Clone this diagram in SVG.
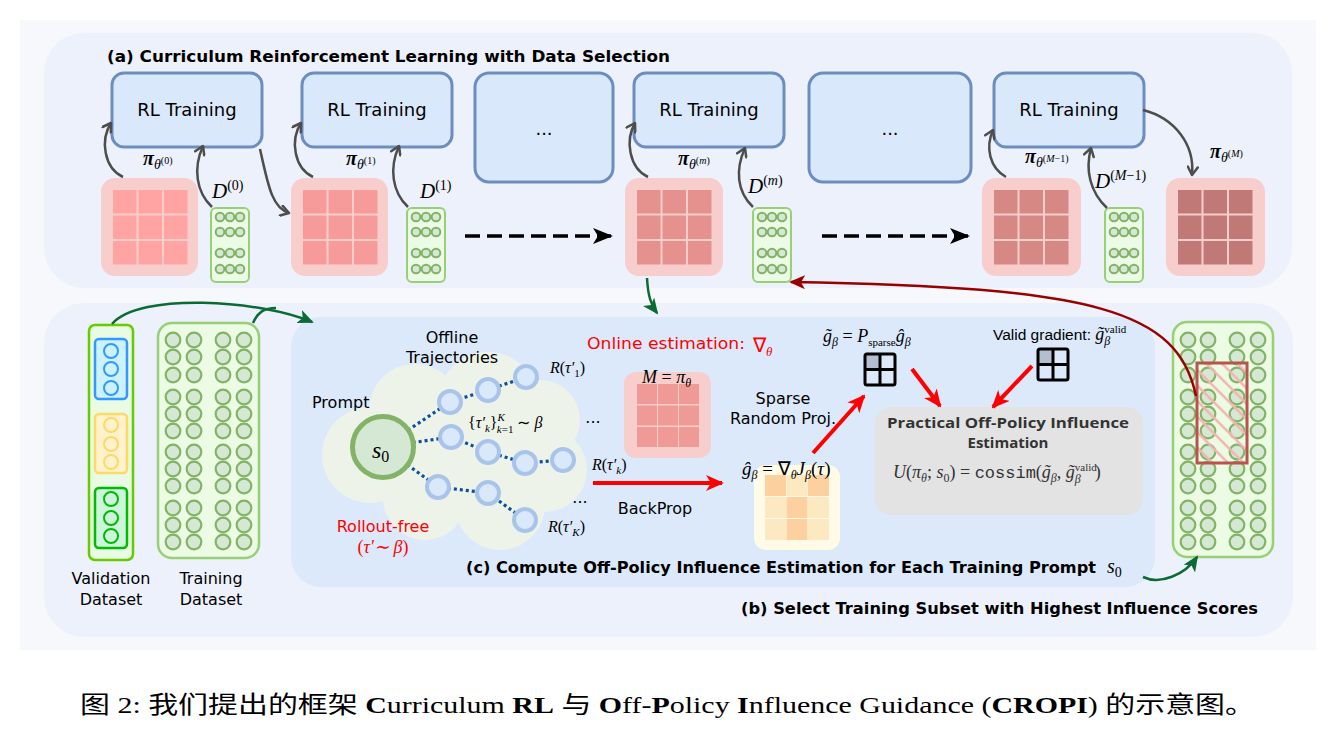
<svg xmlns="http://www.w3.org/2000/svg" width="1336" height="736" viewBox="0 0 1336 736">
<defs>
<style>
.panel{fill:#edf1fb}
.rl{fill:#dae8fc;stroke:#6c8ebf;stroke-width:3}
.rlt{font-family:"DejaVu Sans",sans-serif;font-size:18px;fill:#000;text-anchor:middle}
.lb{font-family:"DejaVu Sans",sans-serif;font-size:16px;fill:#000}
.ttl{font-family:"DejaVu Sans",sans-serif;font-weight:bold;font-size:16.5px;fill:#000}
.m{font-family:"Liberation Serif",serif;font-style:italic;fill:#000}
.mr{font-family:"Liberation Serif",serif;font-style:normal}
.pk{fill:#f8cecc}
.dcol{fill:#ebfbe6;stroke:#97d077;stroke-width:2}
.dc{fill:#d5e8d4;stroke:#82b366;stroke-width:2}
.tc{fill:#d5e8d4;stroke:#82b366;stroke-width:2.2}
.ga{fill:none;stroke:#4d4d4d;stroke-width:2.5;marker-end:url(#gA)}
.gr{fill:none;stroke:#0b6b35;stroke-width:2.5;marker-end:url(#grA)}
.ra{fill:none;stroke:#ff0000;stroke-width:4;marker-end:url(#rA)}
.dash{fill:none;stroke:#000;stroke-width:3.5;stroke-dasharray:15 7;marker-end:url(#bA)}
.dot{fill:none;stroke:#0a4f9e;stroke-width:3.2;stroke-dasharray:3 3}
.tn{fill:#dae8fc;stroke:#a9c4eb;stroke-width:4}
.ic{fill:none;stroke:#000;stroke-width:3}
</style>
<marker id="gA" viewBox="0 0 12 12" refX="10" refY="6" markerWidth="12" markerHeight="12" orient="auto" markerUnits="userSpaceOnUse"><path d="M2,1 L10,6 L2,11" fill="none" stroke="#4d4d4d" stroke-width="2.5" stroke-linecap="round" stroke-linejoin="round"/></marker>
<marker id="bA" viewBox="0 0 20 16" refX="18" refY="8" markerWidth="20" markerHeight="16" orient="auto" markerUnits="userSpaceOnUse"><path d="M0,0 L20,8 L0,16 L5,8 Z" fill="#000"/></marker>
<marker id="rA" viewBox="0 0 18 16" refX="16" refY="8" markerWidth="18" markerHeight="16" orient="auto" markerUnits="userSpaceOnUse"><path d="M0,0 L18,8 L0,16 L5,8 Z" fill="#ff0000"/></marker>
<marker id="grA" viewBox="0 0 16 14" refX="14" refY="7" markerWidth="16" markerHeight="14" orient="auto" markerUnits="userSpaceOnUse"><path d="M0,0 L16,7 L0,14 L4,7 Z" fill="#0b6b35"/></marker>
<marker id="drA" viewBox="0 0 16 14" refX="14" refY="7" markerWidth="16" markerHeight="14" orient="auto" markerUnits="userSpaceOnUse"><path d="M0,0 L16,7 L0,14 L4,7 Z" fill="#990000"/></marker>
<pattern id="hatch" patternUnits="userSpaceOnUse" width="11" height="11" patternTransform="rotate(-45)"><line x1="2" y1="0" x2="2" y2="11" stroke="#f4b3b1" stroke-width="2.5"/></pattern>
<g id="g9">
<rect x="0" y="0" width="23.5" height="23.5"/><rect x="25.5" y="0" width="23.5" height="23.5"/><rect x="51" y="0" width="23.5" height="23.5"/>
<rect x="0" y="25.5" width="23.5" height="23.5"/><rect x="25.5" y="25.5" width="23.5" height="23.5"/><rect x="51" y="25.5" width="23.5" height="23.5"/>
<rect x="0" y="51" width="23.5" height="23.5"/><rect x="25.5" y="51" width="23.5" height="23.5"/><rect x="51" y="51" width="23.5" height="23.5"/>
</g>
<g id="dcg">
<rect class="dcol" x="0" y="0" width="38" height="74" rx="5"/>
<circle class="dc" cx="9" cy="9" r="4.3"/><circle class="dc" cx="19" cy="9" r="4.3"/><circle class="dc" cx="29" cy="9" r="4.3"/>
<circle class="dc" cx="9" cy="24" r="4.3"/><circle class="dc" cx="19" cy="24" r="4.3"/><circle class="dc" cx="29" cy="24" r="4.3"/>
<circle class="dc" cx="9" cy="45" r="4.3"/><circle class="dc" cx="19" cy="45" r="4.3"/><circle class="dc" cx="29" cy="45" r="4.3"/>
<circle class="dc" cx="9" cy="61" r="4.3"/><circle class="dc" cx="19" cy="61" r="4.3"/><circle class="dc" cx="29" cy="61" r="4.3"/>
</g>
<g id="c12">
<circle class="tc" cx="0" cy="0" r="7.3"/><circle class="tc" cx="0" cy="17" r="7.3"/><circle class="tc" cx="0" cy="35" r="7.3"/>
<circle class="tc" cx="0" cy="57" r="7.3"/><circle class="tc" cx="0" cy="74" r="7.3"/><circle class="tc" cx="0" cy="91" r="7.3"/>
<circle class="tc" cx="0" cy="112" r="7.3"/><circle class="tc" cx="0" cy="129" r="7.3"/><circle class="tc" cx="0" cy="146" r="7.3"/>
<circle class="tc" cx="0" cy="168" r="7.3"/><circle class="tc" cx="0" cy="185" r="7.3"/><circle class="tc" cx="0" cy="202" r="7.3"/>
</g>
</defs>

<rect x="0" y="0" width="1336" height="736" fill="#ffffff"/>
<rect x="20" y="20" width="1296" height="630" fill="#f7f8fb"/>

<!-- panels -->
<g id="panel-a"><rect class="panel" x="44" y="33" width="1248" height="255" rx="40"/>
<text class="ttl" x="107" y="62" textLength="563" lengthAdjust="spacingAndGlyphs">(a) Curriculum Reinforcement Learning with Data Selection</text></g>
<g id="panel-b"><rect class="panel" x="44" y="303" width="1249" height="334" rx="40"/>
<text class="ttl" x="741" y="614" textLength="517" lengthAdjust="spacingAndGlyphs">(b) Select Training Subset with Highest Influence Scores</text></g>
<g id="panel-c"><rect x="291" y="317" width="864" height="270" rx="30" fill="#dbe9fb"/>
<text class="ttl" x="466" y="573" font-size="15.5" style="font-size:15.5px" textLength="630" lengthAdjust="spacingAndGlyphs">(c) Compute Off-Policy Influence Estimation for Each Training Prompt</text>
<text class="m" x="1107" y="573" font-size="20">s<tspan class="mr" font-size="14" dy="4">0</tspan></text></g>

<!-- RL training boxes -->
<g id="rl1"><rect class="rl" x="112" y="73" width="150" height="74" rx="12"/><text class="rlt" x="187" y="116">RL Training</text></g>
<g id="rl2"><rect class="rl" x="302" y="73" width="150" height="74" rx="12"/><text class="rlt" x="377" y="116">RL Training</text></g>
<g id="rl3"><rect class="rl" x="475" y="73" width="138" height="109" rx="14"/><text class="rlt" x="544" y="135" font-size="14">...</text></g>
<g id="rl4"><rect class="rl" x="634" y="73" width="150" height="74" rx="12"/><text class="rlt" x="709" y="116">RL Training</text></g>
<g id="rl5"><rect class="rl" x="809" y="73" width="162" height="109" rx="14"/><text class="rlt" x="890" y="135" font-size="14">...</text></g>
<g id="rl6"><rect class="rl" x="994" y="73" width="150" height="74" rx="12"/><text class="rlt" x="1069" y="116">RL Training</text></g>

<!-- policy blocks -->
<g id="pol0"><rect class="pk" x="101" y="178" width="97" height="98" rx="14"/><use href="#g9" x="113" y="190" fill="#ffa3a3"/></g>
<g id="pol1"><rect class="pk" x="291" y="178" width="97" height="98" rx="14"/><use href="#g9" x="303" y="190" fill="#f79b9a"/></g>
<g id="polm"><rect class="pk" x="625" y="178" width="98" height="98" rx="14"/><use href="#g9" x="637" y="190" fill="#e5928e"/></g>
<g id="polM1"><rect class="pk" x="982" y="178" width="99" height="98" rx="14"/><use href="#g9" x="994" y="190" fill="#d68884"/></g>
<g id="polM"><rect class="pk" x="1166" y="178" width="99" height="98" rx="14"/><use href="#g9" x="1178" y="190" fill="#c07976"/></g>

<!-- data subsets -->
<g id="d0"><use href="#dcg" x="211" y="208"/></g>
<g id="d1"><use href="#dcg" x="407" y="208"/></g>
<g id="dm"><use href="#dcg" x="753" y="208"/></g>
<g id="dM1"><use href="#dcg" x="1105" y="208"/></g>

<!-- top labels -->
<g id="top-labels">
<text class="m" x="143" y="165" font-size="20"><tspan font-weight="bold">π</tspan><tspan font-size="14" dy="4">θ</tspan><tspan class="mr" font-size="10" dy="-5">(0)</tspan></text>
<text class="m" x="346" y="165" font-size="20"><tspan font-weight="bold">π</tspan><tspan font-size="14" dy="4">θ</tspan><tspan class="mr" font-size="10" dy="-5">(1)</tspan></text>
<text class="m" x="678" y="165" font-size="20"><tspan font-weight="bold">π</tspan><tspan font-size="14" dy="4">θ</tspan><tspan class="mr" font-size="10" dy="-5">(</tspan><tspan font-size="10">m</tspan><tspan class="mr" font-size="10">)</tspan></text>
<text class="m" x="1025" y="163" font-size="20"><tspan font-weight="bold">π</tspan><tspan font-size="14" dy="4">θ</tspan><tspan class="mr" font-size="10" dy="-5">(</tspan><tspan font-size="10">M</tspan><tspan class="mr" font-size="10">−1)</tspan></text>
<text class="m" x="1210" y="158" font-size="20"><tspan font-weight="bold">π</tspan><tspan font-size="14" dy="4">θ</tspan><tspan class="mr" font-size="10" dy="-5">(</tspan><tspan font-size="10">M</tspan><tspan class="mr" font-size="10">)</tspan></text>
<text class="m" x="212" y="198" font-size="21">D<tspan class="mr" font-size="14" dy="-8">(0)</tspan></text>
<text class="m" x="420" y="198" font-size="21">D<tspan class="mr" font-size="14" dy="-8">(1)</tspan></text>
<text class="m" x="748" y="193" font-size="21">D<tspan class="mr" font-size="14" dy="-8">(</tspan><tspan font-size="14">m</tspan><tspan class="mr" font-size="14">)</tspan></text>
<text class="m" x="1095" y="188" font-size="21">D<tspan class="mr" font-size="14" dy="-8">(</tspan><tspan font-size="14">M</tspan><tspan class="mr" font-size="14">−1)</tspan></text>
</g>

<!-- validation dataset -->
<g id="validation">
<rect x="89" y="325" width="44" height="235" rx="6" fill="#e9fbe4" stroke="#66cc00" stroke-width="2.5"/>
<rect x="95" y="339" width="32" height="60" rx="4" fill="#ccf2ff" stroke="#3399ff" stroke-width="2.5"/>
<circle cx="111" cy="351" r="7" fill="none" stroke="#3399ff" stroke-width="2"/><circle cx="111" cy="369" r="7" fill="none" stroke="#3399ff" stroke-width="2"/><circle cx="111" cy="388" r="7" fill="none" stroke="#3399ff" stroke-width="2"/>
<rect x="95" y="414" width="32" height="59" rx="4" fill="#fff2cc" stroke="#ffd966" stroke-width="2.5"/>
<circle cx="111" cy="425" r="7" fill="none" stroke="#ffd966" stroke-width="2"/><circle cx="111" cy="444" r="7" fill="none" stroke="#ffd966" stroke-width="2"/><circle cx="111" cy="462" r="7" fill="none" stroke="#ffd966" stroke-width="2"/>
<rect x="95" y="488" width="32" height="60" rx="4" fill="#ccf5dc" stroke="#00bb00" stroke-width="2.5"/>
<circle cx="111" cy="499" r="7" fill="none" stroke="#00bb00" stroke-width="2"/><circle cx="111" cy="518" r="7" fill="none" stroke="#00bb00" stroke-width="2"/><circle cx="111" cy="536" r="7" fill="none" stroke="#00bb00" stroke-width="2"/>
<text class="lb" x="111" y="584" text-anchor="middle">Validation</text>
<text class="lb" x="111" y="605" text-anchor="middle">Dataset</text>
</g>

<!-- training dataset -->
<g id="training">
<rect x="158" y="323" width="101" height="235" rx="14" fill="#ebfbe4" stroke="#97d077" stroke-width="2.5"/>
<use href="#c12" x="173" y="340"/><use href="#c12" x="194" y="340"/><use href="#c12" x="223" y="340"/><use href="#c12" x="244" y="340"/>
<text class="lb" x="211" y="584" text-anchor="middle">Training</text>
<text class="lb" x="211" y="605" text-anchor="middle">Dataset</text>
</g>

<!-- selected subset -->
<g id="selected">
<rect x="1173" y="322" width="100" height="235" rx="14" fill="#ebfbe4" stroke="#97d077" stroke-width="2.5"/>
<use href="#c12" x="1188" y="340"/><use href="#c12" x="1208" y="340"/><use href="#c12" x="1237" y="340"/><use href="#c12" x="1258" y="340"/>
<rect x="1197" y="363" width="50" height="100" fill="url(#hatch)" stroke="#b85450" stroke-width="3"/>
</g>

<!-- cloud of offline trajectories -->
<g id="cloud" fill="#eef3ea">
<circle cx="370" cy="455" r="48"/><circle cx="415" cy="410" r="46"/><circle cx="488" cy="402" r="50"/>
<circle cx="540" cy="420" r="40"/><circle cx="545" cy="470" r="42"/><circle cx="500" cy="505" r="45"/>
<circle cx="425" cy="498" r="42"/><circle cx="460" cy="455" r="60"/>
</g>

<g id="trajectories">
<path class="dot" d="M383,447 L450,402 L488,390 L526,377"/>
<path class="dot" d="M383,447 L451,437 L488,452 L525,463 L563,460"/>
<path class="dot" d="M383,447 L438,487 L488,493 L525,520"/>
<circle class="tn" cx="450" cy="402" r="11"/><circle class="tn" cx="488" cy="390" r="11"/><circle class="tn" cx="526" cy="377" r="11"/>
<circle class="tn" cx="451" cy="437" r="11"/><circle class="tn" cx="488" cy="452" r="11"/><circle class="tn" cx="525" cy="463" r="11"/><circle class="tn" cx="563" cy="460" r="11"/>
<circle class="tn" cx="438" cy="487" r="11"/><circle class="tn" cx="488" cy="493" r="11"/><circle class="tn" cx="525" cy="520" r="11"/>
</g>

<g id="prompt">
<circle cx="383" cy="447" r="30.5" fill="#d5e8d4" stroke="#82b366" stroke-width="5"/>
<text class="m" x="372" y="458" font-size="24">s<tspan class="mr" font-size="16" dy="4">0</tspan></text>
<text class="lb" x="312" y="408">Prompt</text>
</g>

<g id="traj-labels">
<text class="lb" x="452" y="343" text-anchor="middle">Offline</text>
<text class="lb" x="452" y="363" text-anchor="middle">Trajectories</text>
<text class="m" x="550" y="373" font-size="16">R<tspan class="mr">(</tspan>τ′<tspan class="mr" font-size="11" dy="4">1</tspan><tspan class="mr" dy="-4">)</tspan></text>
<text class="m" x="592" y="470" font-size="16">R<tspan class="mr">(</tspan>τ′<tspan font-size="11" dy="4">k</tspan><tspan class="mr" dy="-4">)</tspan></text>
<text class="m" x="548" y="532" font-size="16">R<tspan class="mr">(</tspan>τ′<tspan font-size="11" dy="4">K</tspan><tspan class="mr" dy="-4">)</tspan></text>
<text class="m" x="468" y="428" font-size="16"><tspan class="mr">{</tspan>τ′<tspan font-size="11" dy="4">k</tspan><tspan class="mr" dy="-4">}</tspan><tspan font-size="11" dy="-7">K</tspan><tspan font-size="11" dx="-8" dy="12">k</tspan><tspan class="mr" font-size="11">=1</tspan><tspan class="mr" dx="4" dy="-5">∼</tspan> β</text>
<text class="lb" x="593" y="423" text-anchor="middle" font-size="13">...</text>
<text class="lb" x="580" y="503" text-anchor="middle" font-size="13">...</text>
<text class="lb" x="383" y="532" text-anchor="middle" style="fill:#ff0000">Rollout-free</text>
<text class="m" x="383" y="553" text-anchor="middle" font-size="18" style="fill:#ff0000"><tspan class="mr">(</tspan>τ′∼ β<tspan class="mr">)</tspan></text>
</g>

<g id="online">
<text class="lb" x="587" y="349" font-size="18" style="fill:#ff0000" textLength="158" lengthAdjust="spacingAndGlyphs">Online estimation:</text>
<text class="mr" x="753" y="352" font-size="20" style="fill:#ff0000;font-family:'Liberation Serif',serif">∇<tspan font-style="italic" font-size="13" dy="4">θ</tspan></text>
<rect class="pk" x="624" y="372" width="87" height="86" rx="12"/>
<g fill="#f09a98">
<rect x="637" y="384" width="20" height="20"/><rect x="658" y="384" width="20" height="20"/><rect x="679" y="384" width="20" height="20"/>
<rect x="637" y="405.5" width="20" height="20"/><rect x="658" y="405.5" width="20" height="20"/><rect x="679" y="405.5" width="20" height="20"/>
<rect x="637" y="427" width="20" height="20"/><rect x="658" y="427" width="20" height="20"/><rect x="679" y="427" width="20" height="20"/>
</g>
<text class="m" x="642" y="383" font-size="18">M <tspan class="mr">=</tspan> π<tspan font-size="12" dy="4">θ</tspan></text>
<text class="lb" x="655" y="514" text-anchor="middle">BackProp</text>
</g>

<g id="grad">
<rect x="754" y="465" width="86" height="85" rx="12" fill="#fffbe6"/>
<rect x="765" y="475" width="21" height="21" fill="#fdd19f"/><rect x="786.5" y="475" width="21" height="21" fill="#fce9c1"/><rect x="808" y="475" width="21" height="21" fill="#fdd19f"/>
<rect x="765" y="497" width="21" height="21" fill="#fce9c1"/><rect x="786.5" y="497" width="21" height="21" fill="#fdd19f"/><rect x="808" y="497" width="21" height="21" fill="#fce9c1"/>
<rect x="765" y="519" width="21" height="21" fill="#fce9c1"/><rect x="786.5" y="519" width="21" height="21" fill="#fdd19f"/><rect x="808" y="519" width="21" height="21" fill="#fce9c1"/>
<text class="m" x="742" y="475" font-size="19">ĝ<tspan font-size="12" dy="4">β</tspan><tspan class="mr" dy="-4"> = ∇</tspan><tspan font-size="12" dy="4">θ</tspan><tspan dy="-4">J</tspan><tspan font-size="12" dy="4">β</tspan><tspan class="mr" dy="-4">(</tspan>τ<tspan class="mr">)</tspan></text>
<text class="lb" x="783" y="404" text-anchor="middle">Sparse</text>
<text class="lb" x="783" y="424" text-anchor="middle">Random Proj.</text>
</g>

<g id="proj">
<rect x="865" y="354" width="30" height="31" rx="2" fill="#dbe9fb"/>
<rect x="865" y="354" width="15" height="15.5" fill="#b3bfd1"/>
<rect class="ic" x="865" y="354" width="30" height="31" rx="2"/>
<line class="ic" x1="880" y1="354" x2="880" y2="385"/><line class="ic" x1="865" y1="369.5" x2="895" y2="369.5"/>
<text class="m" x="823" y="342" font-size="18">g̃<tspan font-size="12" dy="4">β</tspan><tspan class="mr" dy="-4"> = </tspan>P<tspan class="mr" font-size="11" dy="4">sparse</tspan><tspan dy="-4">ĝ</tspan><tspan font-size="12" dy="4">β</tspan></text>
</g>

<g id="valid">
<rect x="1038" y="349" width="30" height="31" rx="2" fill="#dbe9fb"/>
<rect x="1038" y="349" width="15" height="15.5" fill="#b3bfd1"/>
<rect class="ic" x="1038" y="349" width="30" height="31" rx="2"/>
<line class="ic" x1="1053" y1="349" x2="1053" y2="380"/><line class="ic" x1="1038" y1="364.5" x2="1068" y2="364.5"/>
<text x="993" y="340" font-family="Liberation Sans, sans-serif" font-size="15.5">Valid gradient: <tspan class="m" font-size="18">g̃</tspan><tspan class="mr" font-size="11" dy="-7">valid</tspan><tspan class="m" font-size="12" dx="-22" dy="12">β</tspan></text>
</g>

<g id="influence">
<rect x="875" y="407" width="268" height="108" rx="16" fill="#e3e3e3"/>
<text x="1008" y="428" text-anchor="middle" font-family="Open Sans, DejaVu Sans, sans-serif" font-weight="bold" font-size="15" fill="#333333" textLength="242" lengthAdjust="spacingAndGlyphs">Practical Off-Policy Influence</text>
<text x="1008" y="448" text-anchor="middle" font-family="Open Sans, DejaVu Sans, sans-serif" font-weight="bold" font-size="15" fill="#333333">Estimation</text>
<text class="m" x="893" y="478" font-size="18" style="fill:#333333">U<tspan class="mr">(</tspan>π<tspan font-size="12" dy="4">θ</tspan><tspan class="mr" dy="-4">; </tspan>s<tspan class="mr" font-size="12" dy="4">0</tspan><tspan class="mr" dy="-4">) = </tspan><tspan font-family="Liberation Mono, monospace" font-style="normal" font-size="17">cossim</tspan><tspan class="mr">(</tspan>g̃<tspan font-size="12" dy="4">β</tspan><tspan class="mr" dy="-4">, </tspan>g̃<tspan class="mr" font-size="11" dy="-7">valid</tspan><tspan font-size="12" dx="-22" dy="12">β</tspan><tspan class="mr" dx="14" dy="-5">)</tspan></text>
</g>

<!-- connectors -->
<g id="connectors">
<path class="ga" d="M123,177 C104,168 100,140 111,123"/>
<path class="ga" d="M212,207 C196,192 193,168 203,146"/>
<path class="ga" d="M260,149 C268,185 272,208 289,213"/>
<path class="ga" d="M313,177 C294,168 290,140 301,123"/>
<path class="ga" d="M408,207 C392,192 389,168 399,146"/>
<path class="ga" d="M648,177 C629,168 625,140 635,123"/>
<path class="ga" d="M753,207 C737,192 735,170 745,148"/>
<path class="ga" d="M1006,177 C990,168 985,148 993,130"/>
<path class="ga" d="M1107,208 C1090,192 1085,170 1091,148"/>
<path class="ga" d="M1143,110 C1175,118 1195,145 1192,175"/>
<path class="dash" d="M465,236 L611,236"/>
<path class="dash" d="M822,236 L968,236"/>
<path class="gr" d="M112,324 C140,292 260,300 312,322"/>
<path d="M253,323 C258,312 264,308 276,308" fill="none" stroke="#0b6b35" stroke-width="2.5"/>
<path class="gr" d="M647,278 C648,296 651,305 657,313"/>
<path class="gr" d="M1143,577 C1160,585 1185,575 1197,557"/>
<path d="M1196,396 C1178,310 1095,287 791,282" fill="none" stroke="#990000" stroke-width="2.5" marker-end="url(#drA)"/>
<path class="ra" d="M593,483 L722,483"/>
<path class="ra" d="M813,453 L864,396"/>
<path class="ra" d="M912,369 L940,406"/>
<path class="ra" d="M1032,366 L993,407"/>
</g>

<text x="80" y="713" font-family="Liberation Serif, Noto Sans CJK SC, serif" font-size="24" textLength="1175" lengthAdjust="spacingAndGlyphs">图 2: 我们提出的框架 <tspan font-weight="bold">C</tspan>urriculum <tspan font-weight="bold">RL</tspan> 与 <tspan font-weight="bold">O</tspan>ff-<tspan font-weight="bold">P</tspan>olicy <tspan font-weight="bold">I</tspan>nfluence Guidance (<tspan font-weight="bold">CROPI</tspan>) 的示意图。</text>
</svg>
